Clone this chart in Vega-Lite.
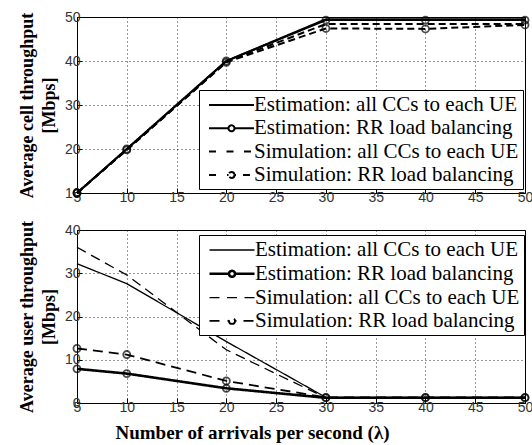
{
  "$schema": "https://vega.github.io/schema/vega-lite/v6.json",
  "padding": {"left": 17, "top": 9, "right": 0, "bottom": 0},
  "background": "white",
  "spacing": 37,
  "bounds": "flush",
  "resolve": {
    "scale": {"color": "independent", "strokeDash": "independent", "strokeWidth": "independent"},
    "legend": {"color": "independent", "strokeDash": "independent", "strokeWidth": "independent"}
  },
  "datasets": {
    "cell": [
      {"x": 5, "y": 10, "series": "Estimation: all CCs to each UE"},
      {"x": 10, "y": 20, "series": "Estimation: all CCs to each UE"},
      {"x": 20, "y": 40, "series": "Estimation: all CCs to each UE"},
      {"x": 30, "y": 49.5, "series": "Estimation: all CCs to each UE"},
      {"x": 40, "y": 49.5, "series": "Estimation: all CCs to each UE"},
      {"x": 50, "y": 49.5, "series": "Estimation: all CCs to each UE"},
      {"x": 5, "y": 10, "series": "Estimation: RR load balancing"},
      {"x": 10, "y": 20, "series": "Estimation: RR load balancing"},
      {"x": 20, "y": 40, "series": "Estimation: RR load balancing"},
      {"x": 30, "y": 49.3, "series": "Estimation: RR load balancing"},
      {"x": 40, "y": 49.3, "series": "Estimation: RR load balancing"},
      {"x": 50, "y": 49.3, "series": "Estimation: RR load balancing"},
      {"x": 5, "y": 10, "series": "Simulation: all CCs to each UE"},
      {"x": 10, "y": 19.8, "series": "Simulation: all CCs to each UE"},
      {"x": 20, "y": 39.8, "series": "Simulation: all CCs to each UE"},
      {"x": 30, "y": 48.4, "series": "Simulation: all CCs to each UE"},
      {"x": 40, "y": 48.4, "series": "Simulation: all CCs to each UE"},
      {"x": 50, "y": 48.4, "series": "Simulation: all CCs to each UE"},
      {"x": 5, "y": 10, "series": "Simulation: RR load balancing"},
      {"x": 10, "y": 19.8, "series": "Simulation: RR load balancing"},
      {"x": 20, "y": 39.7, "series": "Simulation: RR load balancing"},
      {"x": 30, "y": 47.4, "series": "Simulation: RR load balancing"},
      {"x": 40, "y": 47.3, "series": "Simulation: RR load balancing"},
      {"x": 50, "y": 48.2, "series": "Simulation: RR load balancing"}
    ],
    "user": [
      {"x": 5, "y": 32.2, "series": "Estimation: all CCs to each UE"},
      {"x": 10, "y": 27.6, "series": "Estimation: all CCs to each UE"},
      {"x": 20, "y": 14.2, "series": "Estimation: all CCs to each UE"},
      {"x": 30, "y": 1.3, "series": "Estimation: all CCs to each UE"},
      {"x": 40, "y": 1.3, "series": "Estimation: all CCs to each UE"},
      {"x": 50, "y": 1.3, "series": "Estimation: all CCs to each UE"},
      {"x": 5, "y": 7.9, "series": "Estimation: RR load balancing"},
      {"x": 10, "y": 6.8, "series": "Estimation: RR load balancing"},
      {"x": 20, "y": 3.4, "series": "Estimation: RR load balancing"},
      {"x": 30, "y": 1.2, "series": "Estimation: RR load balancing"},
      {"x": 40, "y": 1.2, "series": "Estimation: RR load balancing"},
      {"x": 50, "y": 1.2, "series": "Estimation: RR load balancing"},
      {"x": 5, "y": 36, "series": "Simulation: all CCs to each UE"},
      {"x": 10, "y": 29.6, "series": "Simulation: all CCs to each UE"},
      {"x": 20, "y": 12.3, "series": "Simulation: all CCs to each UE"},
      {"x": 30, "y": 1.2, "series": "Simulation: all CCs to each UE"},
      {"x": 40, "y": 1.2, "series": "Simulation: all CCs to each UE"},
      {"x": 50, "y": 1.2, "series": "Simulation: all CCs to each UE"},
      {"x": 5, "y": 12.6, "series": "Simulation: RR load balancing"},
      {"x": 10, "y": 11.2, "series": "Simulation: RR load balancing"},
      {"x": 20, "y": 5.1, "series": "Simulation: RR load balancing"},
      {"x": 30, "y": 1.3, "series": "Simulation: RR load balancing"},
      {"x": 40, "y": 1.3, "series": "Simulation: RR load balancing"},
      {"x": 50, "y": 1.3, "series": "Simulation: RR load balancing"}
    ]
  },
  "config": {
    "view": {"stroke": "black", "strokeWidth": 1},
    "axis": {
      "labelFont": "Liberation Sans",
      "labelFontSize": 14,
      "labelColor": "#333333",
      "labelPadding": 2,
      "labelOverlap": false,
      "labelFlush": false,
      "labelBound": false,
      "domain": false,
      "ticks": true,
      "tickSize": -5,
      "tickColor": "black",
      "grid": true,
      "gridColor": "black",
      "gridDash": [1, 3],
      "gridOpacity": 0.8,
      "titleFont": "Liberation Serif",
      "titleFontWeight": "bold",
      "titleFontSize": 18,
      "titleColor": "black",
      "titleLineHeight": 22
    },
    "legend": {
      "orient": "none",
      "legendX": 122,
      "title": null,
      "labelFont": "Liberation Serif",
      "labelFontSize": 21,
      "labelColor": "black",
      "labelLimit": 400,
      "labelOffset": 29,
      "strokeColor": "black",
      "fillColor": "white",
      "padding": 4,
      "rowPadding": 2.3,
      "symbolSize": 400,
      "symbolStrokeColor": "black"
    }
  },
  "vconcat": [
    {
      "width": 448,
      "height": 176,
      "data": {"name": "cell"},
      "layer": [
        {
          "mark": {"type": "line", "strokeWidth": 2},
          "encoding": {
            "x": {"field": "x", "type": "quantitative", "scale": {"domain": [5, 50], "nice": false}, "axis": {"values": [5, 10, 15, 20, 25, 30, 35, 40, 45, 50], "title": null}},
            "y": {"field": "y", "type": "quantitative", "scale": {"domain": [10, 50], "nice": false, "zero": false}, "axis": {"values": [10, 20, 30, 40, 50], "title": ["Average cell throughput", "[Mbps]"], "titlePadding": 6}},
            "color": {
              "field": "series", "type": "nominal",
              "scale": {"domain": ["Estimation: all CCs to each UE", "Estimation: RR load balancing", "Simulation: all CCs to each UE", "Simulation: RR load balancing"], "range": ["black", "black", "black", "black"]},
              "legend": {
                "legendY": 73,
                "encode": {
                  "symbols": {
                    "update": {
                      "fill": {"value": "transparent"},
                      "stroke": {"value": "black"},
                      "strokeDash": {"value": [1, 0]},
                      "strokeWidth": {"value": 2},
                      "shape": {"signal": "datum.value == 'Estimation: all CCs to each UE' ? 'M-0.5,0H4' : datum.value == 'Estimation: RR load balancing' ? 'M-0.5,0H1.45M2.05,0H4M2.05,0A0.3,0.3 0 1,1 1.45,0A0.3,0.3 0 1,1 2.05,0' : datum.value == 'Simulation: all CCs to each UE' ? 'M-0.5,0H0.5M1.25,0H2.25M3,0H4' : 'M-0.5,0H0.6M1.3,0H1.45M2.05,0H2.2M2.9,0H4M2.05,0A0.3,0.3 0 1,1 1.45,0A0.3,0.3 0 1,1 2.05,0'"}
                    }
                  }
                }
              }
            },
            "strokeDash": {
              "field": "series", "type": "nominal",
              "scale": {"domain": ["Estimation: all CCs to each UE", "Estimation: RR load balancing", "Simulation: all CCs to each UE", "Simulation: RR load balancing"], "range": [[1, 0], [1, 0], [7, 4], [7, 4]]},
              "legend": null
            }
          }
        },
        {
          "transform": [{"filter": "indexof(datum.series, 'RR') >= 0"}],
          "mark": {"type": "point", "shape": "circle", "filled": false, "size": 50, "stroke": "black", "strokeWidth": 1.8},
          "encoding": {
            "x": {"field": "x", "type": "quantitative"},
            "y": {"field": "y", "type": "quantitative"}
          }
        }
      ]
    },
    {
      "width": 448,
      "height": 173,
      "data": {"name": "user"},
      "layer": [
        {
          "mark": {"type": "line"},
          "encoding": {
            "x": {"field": "x", "type": "quantitative", "scale": {"domain": [5, 50], "nice": false}, "axis": {"values": [5, 10, 15, 20, 25, 30, 35, 40, 45, 50], "title": "Number of arrivals per second (λ)", "titleX": 175, "titleFontSize": 19, "titlePadding": 9}},
            "y": {"field": "y", "type": "quantitative", "scale": {"domain": [0, 40], "nice": false}, "axis": {"values": [0, 10, 20, 30, 40], "title": ["Average user throughput", "[Mbps]"], "titlePadding": 6}},
            "color": {
              "field": "series", "type": "nominal",
              "scale": {"domain": ["Estimation: all CCs to each UE", "Estimation: RR load balancing", "Simulation: all CCs to each UE", "Simulation: RR load balancing"], "range": ["black", "black", "black", "black"]},
              "legend": {
                "legendY": 5,
                "encode": {
                  "symbols": {
                    "update": {
                      "fill": {"value": "transparent"},
                      "stroke": {"value": "black"},
                      "strokeDash": {"value": [1, 0]},
                      "strokeWidth": {"signal": "datum.value == 'Estimation: all CCs to each UE' ? 1.3 : datum.value == 'Estimation: RR load balancing' ? 2.5 : 1.8"},
                      "shape": {"signal": "datum.value == 'Estimation: all CCs to each UE' ? 'M-0.5,0H4' : datum.value == 'Estimation: RR load balancing' ? 'M-0.5,0H1.45M2.05,0H4M2.05,0A0.3,0.3 0 1,1 1.45,0A0.3,0.3 0 1,1 2.05,0' : datum.value == 'Simulation: all CCs to each UE' ? 'M-0.5,0H0.5M1.25,0H2.25M3,0H4' : 'M-0.5,0H0.6M1.3,0H1.45M2.05,0H2.2M2.9,0H4M2.05,0A0.3,0.3 0 1,1 1.45,0A0.3,0.3 0 1,1 2.05,0'"}
                    }
                  }
                }
              }
            },
            "strokeDash": {
              "field": "series", "type": "nominal",
              "scale": {"domain": ["Estimation: all CCs to each UE", "Estimation: RR load balancing", "Simulation: all CCs to each UE", "Simulation: RR load balancing"], "range": [[1, 0], [1, 0], [10, 6], [10, 6]]},
              "legend": null
            },
            "strokeWidth": {
              "field": "series", "type": "nominal",
              "scale": {"type": "ordinal", "domain": ["Estimation: all CCs to each UE", "Estimation: RR load balancing", "Simulation: all CCs to each UE", "Simulation: RR load balancing"], "range": [1.3, 2.6, 1.3, 1.8]},
              "legend": null
            }
          }
        },
        {
          "transform": [{"filter": "indexof(datum.series, 'RR') >= 0"}],
          "mark": {"type": "point", "shape": "circle", "filled": false, "size": 50, "stroke": "black", "strokeWidth": 1.8},
          "encoding": {
            "x": {"field": "x", "type": "quantitative"},
            "y": {"field": "y", "type": "quantitative"}
          }
        }
      ]
    }
  ]
}
